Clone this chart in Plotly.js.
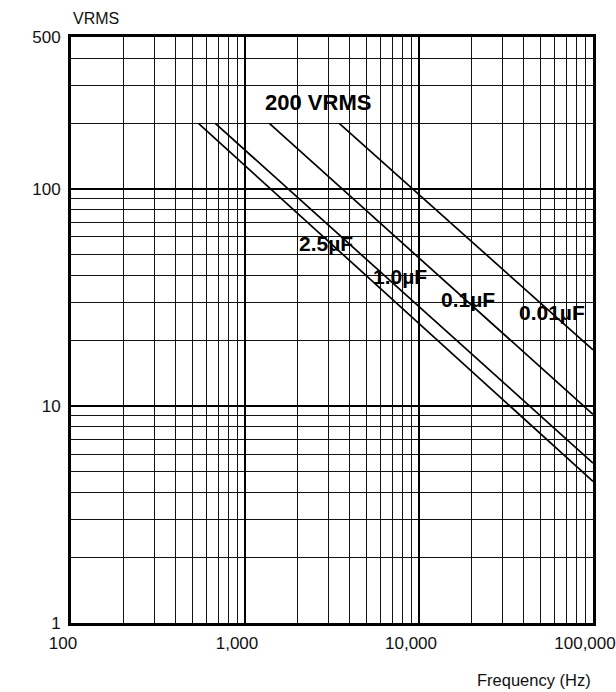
<!DOCTYPE html>
<html>
<head>
<meta charset="utf-8">
<script src="https://cdn.plot.ly/plotly-3.0.1.min.js"></script>
<style>html,body{margin:0;padding:0;background:#fff;}#chart{width:616px;height:692px;}</style>
</head>
<body>
<div id="chart"></div>
<script>
// Data (frequency in Hz, voltage in VRMS)
const capLabels = ["2.5µF", "1.0µF", "0.1µF", "0.01µF"];
const cap25Freq = [540, 100000];
const cap25Volt = [200, 4.49];
const cap10Freq = [675, 100000];
const cap10Volt = [200, 5.45];
const cap01Freq = [1380, 100000];
const cap01Volt = [200, 9.14];
const cap001Freq = [3480, 100000];
const cap001Volt = [200, 18.1];
const ratedLabel = "200 VRMS";

const xTickVals = [100, 1000, 10000, 100000];
const xTickText = ["100", "1,000", "10,000", "100,000"];
const yTickVals = [1, 10, 100, 500];
const yTickText = ["1", "10", "100", "500"];

const FONT = "Liberation Sans, Arial, sans-serif";

const series = [
  [cap25Freq, cap25Volt], [cap10Freq, cap10Volt],
  [cap01Freq, cap01Volt], [cap001Freq, cap001Volt]
];
const traces = series.map((s, i) => ({
  x: s[0], y: s[1], type: "scatter", mode: "lines", name: capLabels[i],
  line: {color: "#000", width: 1.7}, hoverinfo: "skip"
}));

// label positions (log10 units on log axes)
const labelPos = [[3.466, 1.748], [3.890, 1.596], [4.281, 1.490], [4.763, 1.430]];
const annotations = capLabels.map((t, i) => ({
  text: "<b>" + t + "</b>", x: labelPos[i][0], y: labelPos[i][1],
  xref: "x", yref: "y", showarrow: false,
  font: {family: FONT, size: 21, color: "#000"}
}));
annotations.push({
  text: "<b>" + ratedLabel + "</b>", x: 3.420, y: 2.397, xref: "x", yref: "y",
  showarrow: false, font: {family: FONT, size: 22, color: "#000"}
});
annotations.push({
  text: "VRMS", xref: "paper", yref: "paper", x: 0, xanchor: "left",
  y: 1, yshift: 19, yanchor: "middle", showarrow: false,
  font: {family: FONT, size: 16, color: "#111"}
});
annotations.push({
  text: "Frequency (Hz)", xref: "paper", yref: "paper", x: 1, xanchor: "right",
  y: 0, yshift: -57, yanchor: "middle", showarrow: false,
  font: {family: FONT, size: 16.5, color: "#111"}
});

const layout = {
  width: 616, height: 692,
  margin: {l: 71, r: 23, t: 37, b: 69, pad: 0},
  paper_bgcolor: "#fff", plot_bgcolor: "#fff",
  showlegend: false,
  font: {family: FONT, size: 17, color: "#111"},
  xaxis: {
    type: "log", range: [2, 5], tickmode: "array",
    tickvals: xTickVals, ticktext: xTickText,
    showgrid: true, gridcolor: "#000", gridwidth: 2,
    showline: true, linecolor: "#000", linewidth: 3, mirror: true,
    ticks: "", zeroline: false, ticklabelstandoff: 3, ticklabelshift: -8,
    tickfont: {family: FONT, size: 17, color: "#111"},
    minor: {dtick: "D1", showgrid: true, gridcolor: "#111", gridwidth: 1, ticks: ""}
  },
  yaxis: {
    type: "log", range: [0, Math.log10(500)], tickmode: "array",
    tickvals: yTickVals, ticktext: yTickText,
    showgrid: true, gridcolor: "#000", gridwidth: 2,
    showline: true, linecolor: "#000", linewidth: 3, mirror: true,
    ticks: "", zeroline: false, ticklabelstandoff: 4,
    tickfont: {family: FONT, size: 17, color: "#111"},
    minor: {dtick: "D1", showgrid: true, gridcolor: "#111", gridwidth: 1, ticks: ""}
  },
  annotations: annotations
};

Plotly.newPlot("chart", traces, layout, {staticPlot: true, displayModeBar: false});
</script>
</body>
</html>
